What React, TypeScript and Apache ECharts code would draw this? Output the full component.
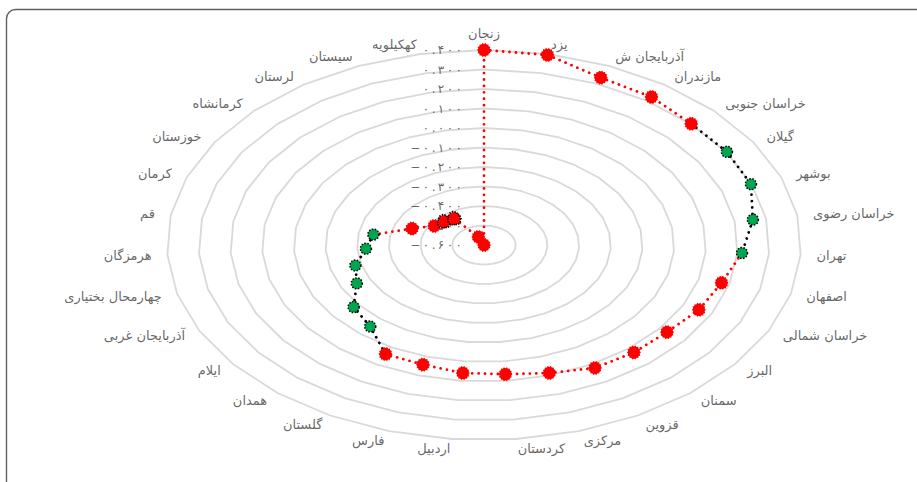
import React, { useEffect, useRef } from "react";
import * as echarts from "echarts";

const provinces = [
  "زنجان", "یزد", "آذربایجان ش", "مازندران", "خراسان جنوبی", "گیلان", "بوشهر",
  "خراسان رضوی", "تهران", "اصفهان", "خراسان شمالی", "البرز", "سمنان", "قزوین",
  "مرکزی", "کردستان", "اردبیل", "فارس", "گلستان", "همدان", "ایلام",
  "آذربایجان غربی", "چهارمحال بختیاری", "هرمزگان", "قم", "کرمان", "خوزستان",
  "کرمانشاه", "لرستان", "سیستان", "کهکیلویه",
];

const values = [
  0.400, 0.395, 0.334, 0.325, 0.302, 0.303, 0.298,
  0.258, 0.215, 0.174, 0.155, 0.130, 0.126, 0.121,
  0.088, 0.066, 0.060, 0.043, 0.040, -0.049, -0.080,
  -0.153, -0.181, -0.227, -0.247, -0.358, -0.415,
  -0.426, -0.435, -0.555, -0.600,
];

// 1 = green (significant) marker, 0 = red marker
const significant = [
  0, 0, 0, 0, 0, 1, 1,
  1, 1, 0, 0, 0, 0, 0,
  0, 0, 0, 0, 0, 1, 1,
  1, 1, 1, 1, 0, 0,
  0, 0, 0, 0,
];

// red markers drawn with a black outline
const outlined = [27, 28];

// stretches of the loop drawn with a black dotted line (from index, to index)
const blackStretches = [[4, 8], [18, 24]];

const radialTicks = [0.4, 0.3, 0.2, 0.1, 0.0, -0.1, -0.2, -0.3, -0.4, -0.5, -0.6];
const rMin = -0.6;
const rMax = 0.4;

const N = provinces.length;
const toFa = (v: number) => {
  const s = v.toFixed(3);
  return s
    .replace(/-/g, "−")
    .replace(/[0-9]/g, (d) => "۰۱۲۳۴۵۶۷۸۹"[Number(d)])
    .split("")
    .join("\u2009");
};

const pos = (i: number, v: number): [number, number] => {
  const a = (i * 2 * Math.PI) / N;
  const r = (v - rMin) / (rMax - rMin);
  return [r * Math.sin(a), r * Math.cos(a)];
};

const starPath = (() => {
  const pts: string[] = [];
  const n = 28;
  for (let k = 0; k < n; k++) {
    const a = (k * 2 * Math.PI) / n;
    const rr = k % 2 === 0 ? 1 : 0.84;
    pts.push(`${(rr * Math.cos(a)).toFixed(3)} ${(rr * Math.sin(a)).toFixed(3)}`);
  }
  return "path://M" + pts.join(" L") + " Z";
})();

export default function App() {
  const ref = useRef<HTMLDivElement>(null);
  useEffect(() => {
    if (!ref.current) return;
    const chart = echarts.init(ref.current, null, { renderer: "svg" });
    const FONT = "DejaVu Sans";
    const series: any[] = [];
    const dotted = [0.01, 6.4];

    // rings
    radialTicks.forEach((t) => {
      if (t === rMin) return;
      const d: any[] = [];
      for (let i = 0; i <= N; i++) d.push(pos(i % N, t));
      series.push({
        type: "line",
        data: d,
        symbol: "none",
        silent: true,
        clip: false,
        z: 1,
        lineStyle: { color: "#d9d9d9", width: 1.8 },
      });
    });

    // radial tick labels
    series.push({
      type: "scatter",
      symbolSize: 0,
      silent: true,
      clip: false,
      z: 2,
      data: radialTicks.map((t) => ({ value: pos(0, t), tick: t })),
      label: {
        show: true,
        position: "left",
        distance: 22,
        fontFamily: FONT,
        fontSize: 12,
        color: "#404040",
        formatter: (p: any) => toFa(p.data.tick),
      },
    });

    // province labels
    const LR = 1.05;
    series.push({
      type: "scatter",
      symbolSize: 0,
      silent: true,
      clip: false,
      z: 2,
      data: provinces.map((name, i) => {
        const a = (i * 2 * Math.PI) / N;
        const s = Math.sin(a);
        const c = Math.cos(a);
        let position: any;
        if (s > 0.01) position = "right";
        else if (s < -0.01) position = "left";
        else if (c > 0) position = "top";
        else position = "bottom";
        return {
          value: [LR * s, LR * c],
          name,
          label: { position },
        };
      }),
      label: {
        show: true,
        distance: 0,
        fontFamily: FONT,
        fontSize: 13,
        color: "#404040",
        formatter: (p: any) => p.name,
      },
      labelLayout: { hideOverlap: false },
    });

    const pts = values.map((v, i) => pos(i, v));
    const inBlack = (a: number) =>
      blackStretches.some(([s, e]) => a >= s && a < e);

    // red dotted segments (every segment of the closed loop not in a black stretch)
    let cur: any[] = [];
    const redSegs: any[][] = [];
    for (let i = 0; i < N; i++) {
      const j = (i + 1) % N;
      if (inBlack(i)) {
        if (cur.length) redSegs.push(cur);
        cur = [];
        continue;
      }
      if (!cur.length) cur.push(pts[i]);
      cur.push(pts[j]);
    }
    if (cur.length) redSegs.push(cur);
    redSegs.forEach((seg) =>
      series.push({
        type: "line",
        data: seg,
        symbol: "none",
        silent: true,
        clip: false,
        z: 3,
        lineStyle: { color: "#ff0000", width: 2.8, type: dotted, cap: "round" },
      })
    );
    blackStretches.forEach(([s, e]) => {
      const seg: any[] = [];
      for (let i = s; i <= e; i++) seg.push(pts[i]);
      series.push({
        type: "line",
        data: seg,
        symbol: "none",
        silent: true,
        clip: false,
        z: 3,
        lineStyle: { color: "#000000", width: 2.8, type: dotted, cap: "round" },
      });
    });

    // red markers
    series.push({
      type: "scatter",
      z: 4,
      silent: true,
      clip: false,
      symbol: starPath,
      symbolSize: 14,
      data: pts
        .map((p, i) => ({ p, i }))
        .filter(({ i }) => !significant[i])
        .map(({ p, i }) => ({
          value: p,
          itemStyle: outlined.includes(i)
            ? { borderColor: "#000", borderWidth: 1.4, borderType: [1.5, 1.5] }
            : {},
        })),
      itemStyle: { color: "#ff0000", opacity: 1 },
    });
    // green markers
    series.push({
      type: "scatter",
      z: 5,
      silent: true,
      clip: false,
      symbol: "circle",
      symbolSize: 11,
      data: pts.filter((_, i) => significant[i]),
      itemStyle: {
        color: "#00a550",
        opacity: 1,
        borderColor: "#000",
        borderWidth: 1.5,
        borderType: [1.5, 1.5],
      },
    });

    chart.setOption({
      animation: false,
      backgroundColor: "#ffffff",
      grid: { left: 167, top: 50, width: 634, height: 390 },
      xAxis: { type: "value", min: -1, max: 1, show: false },
      yAxis: { type: "value", min: -1, max: 1, show: false },
      graphic: [
        {
          type: "rect",
          shape: { x: 6.5, y: 9.5, width: 1000, height: 600, r: 9 },
          style: { fill: "none", stroke: "#606060", lineWidth: 1.4 },
          silent: true,
        },
      ],
      series,
    });
    return () => chart.dispose();
  }, []);
  return (
    <div
      ref={ref}
      style={{ position: "fixed", left: 0, top: 0, width: 917, height: 482 }}
    />
  );
}
